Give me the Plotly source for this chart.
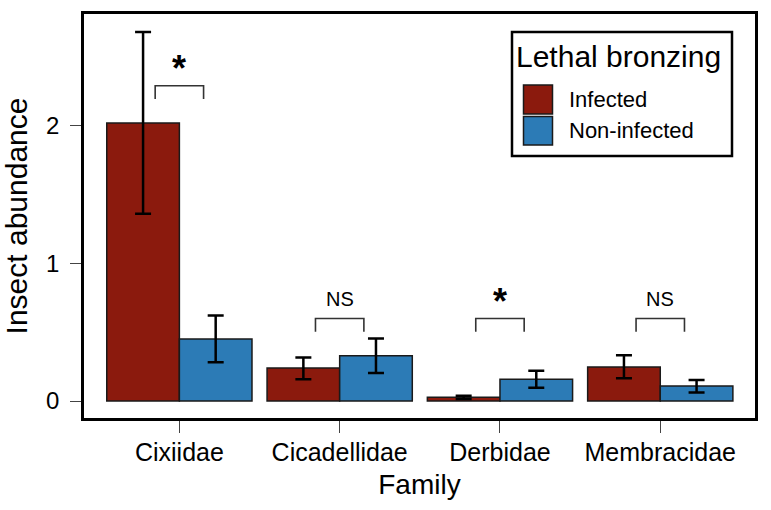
import plotly.graph_objects as go

# --- data ---
families = ["Cixiidae", "Cicadellidae", "Derbidae", "Membracidae"]

infected_mean = [2.02, 0.240, 0.027, 0.247]
infected_lo = [1.36, 0.158, 0.015, 0.165]
infected_hi = [2.68, 0.317, 0.038, 0.332]

noninf_mean = [0.450, 0.329, 0.158, 0.109]
noninf_lo = [0.281, 0.203, 0.097, 0.063]
noninf_hi = [0.622, 0.455, 0.220, 0.153]

signif = ["*", "NS", "*", "NS"]
bracket_top = [2.29, 0.60, 0.60, 0.60]

RED = "#8B1A0D"
BLUE = "#2C7BB6"
FONT = "Liberation Sans, Arial, sans-serif"

W, H = 771, 510
L, R, T, B = 84, 16, 14, 92


def px2paper(x, y):
    return (x - L) / (W - L - R), (H - B - y) / (H - T - B)


fig = go.Figure()
xs = list(range(len(families)))

fig.add_trace(go.Bar(
    x=xs, y=infected_mean, name="Infected",
    marker=dict(color=RED, line=dict(color="#1a1a1a", width=1.5)),
    error_y=dict(type="data", symmetric=False,
                 array=[h - m for h, m in zip(infected_hi, infected_mean)],
                 arrayminus=[m - l for l, m in zip(infected_lo, infected_mean)],
                 color="black", thickness=2.5, width=8),
    showlegend=False,
))
fig.add_trace(go.Bar(
    x=xs, y=noninf_mean, name="Non-infected",
    marker=dict(color=BLUE, line=dict(color="#1a1a1a", width=1.5)),
    error_y=dict(type="data", symmetric=False,
                 array=[h - m for h, m in zip(noninf_hi, noninf_mean)],
                 arrayminus=[m - l for l, m in zip(noninf_lo, noninf_mean)],
                 color="black", thickness=2.5, width=8),
    showlegend=False,
))

# significance brackets
half = 0.151
leg = 0.097
for i, (lab, top) in enumerate(zip(signif, bracket_top)):
    fig.add_trace(go.Scatter(
        x=[i - half, i - half, i + half, i + half],
        y=[top - leg, top, top, top - leg],
        mode="lines", line=dict(color="#333333", width=1.6),
        hoverinfo="skip", showlegend=False,
    ))
    if lab == "*":
        fig.add_annotation(x=i, y=top + 0.02, text="<b>*</b>", showarrow=False,
                           yanchor="bottom", yshift=-8,
                           font=dict(size=36, color="black", family=FONT))
    else:
        fig.add_annotation(x=i, y=top + 0.14, text=lab, showarrow=False,
                           yanchor="middle",
                           font=dict(size=20, color="black", family=FONT))

# manual legend
bx0, by0 = px2paper(512, 156)
bx1, by1 = px2paper(732, 32)
fig.add_shape(type="rect", xref="paper", yref="paper", x0=bx0, y0=by0, x1=bx1, y1=by1,
              line=dict(color="black", width=2.5), fillcolor="white")
for (c, lab, ytop, ybot) in [(RED, "Infected", 85, 114), (BLUE, "Non-infected", 116.5, 145)]:
    sx0, sy0 = px2paper(523.5, ybot)
    sx1, sy1 = px2paper(552.5, ytop)
    fig.add_shape(type="rect", xref="paper", yref="paper", x0=sx0, y0=sy0, x1=sx1, y1=sy1,
                  line=dict(color="#1a1a1a", width=1.5), fillcolor=c)
    tx, ty = px2paper(567, (ytop + ybot) / 2)
    fig.add_annotation(xref="paper", yref="paper", x=tx, y=ty, text=lab, showarrow=False,
                       xanchor="left", yanchor="middle",
                       font=dict(size=22, color="black", family=FONT))
tx, ty = px2paper(514, 57)
fig.add_annotation(xref="paper", yref="paper", x=tx, y=ty, text="Lethal bronzing", showarrow=False,
                   xanchor="left", yanchor="middle",
                   font=dict(size=30, color="black", family=FONT))

fig.update_layout(
    width=W, height=H,
    margin=dict(l=L, r=R, t=T, b=B),
    paper_bgcolor="white", plot_bgcolor="white",
    barmode="group", bargap=0.094, bargroupgap=0,
    font=dict(family=FONT, color="black"),
)
fig.update_xaxes(
    range=[-0.595, 3.591], tickvals=xs, ticktext=families,
    showgrid=False, zeroline=False,
    showline=True, linecolor="black", linewidth=2.5, mirror=True,
    ticks="outside", ticklen=12, tickwidth=1.3, tickcolor="#444444",
    tickfont=dict(size=25, family=FONT), ticklabelstandoff=-2,
    title=dict(text="Family", font=dict(size=28, family=FONT), standoff=10),
)
fig.update_yaxes(
    range=[-0.123, 2.811], tickvals=[0, 1, 2],
    showgrid=False, zeroline=False,
    showline=True, linecolor="black", linewidth=2.5, mirror=True,
    ticks="outside", ticklen=11, tickwidth=1.3, tickcolor="#444444",
    tickfont=dict(size=24, family=FONT), ticklabelstandoff=6,
    title=dict(text="Insect abundance", font=dict(size=30, family=FONT), standoff=10),
)

fig.write_html("out.html", config={"displayModeBar": False},
               post_script="document.body.style.margin='0';")
